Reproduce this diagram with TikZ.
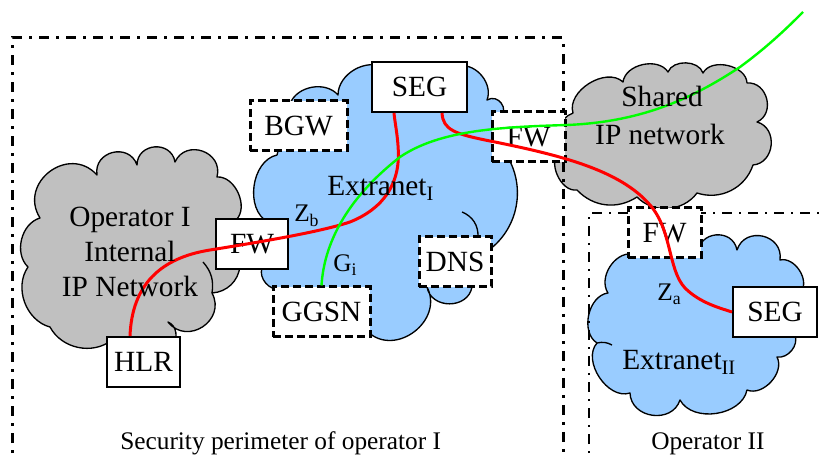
\documentclass[tikz,border=0pt]{standalone}
\usepackage{fontspec}
\setmainfont{Liberation Serif}
\usetikzlibrary{calc}
\definecolor{cloudgray}{HTML}{C0C0C0}
\definecolor{cloudblue}{HTML}{99CCFF}
\tikzset{
  pb/.style={bend left=85, looseness=1.5},
  pm/.style={bend left=80, looseness=1.3},
  pf/.style={bend left=#1, looseness=1},
  cloudline/.style={draw=black, line width=1pt, line join=round},
  tick/.style={draw=black, line width=1pt},
  frameI/.style={line width=2.25pt, dash pattern=on 7.5pt off 5.25pt on 2.25pt off 5.25pt},
  frameII/.style={line width=1.5pt, dash pattern=on 7.5pt off 5.25pt on 1.5pt off 5.25pt},
  sbox/.style={draw, fill=white, line width=1.5pt, inner sep=0pt, minimum height=37.5pt, font=\fontsize{22}{26}\selectfont},
  dbox/.style={sbox, line width=2.25pt, dash pattern=on 6pt off 3pt},
  maintext/.style={font=\fontsize{22}{26}\selectfont, inner sep=0pt},
  lbl/.style={font=\fontsize{19}{22}\selectfont, inner sep=0pt, anchor=base west},
  redl/.style={draw=red, line width=2.25pt},
  greenl/.style={draw=green, line width=1.8pt},
}
\begin{document}
\begin{tikzpicture}[x=0.75pt,y=-0.75pt]
\useasboundingbox (0,0) rectangle (821,459);
\clip (0,0) rectangle (821,459);
% clouds
\path[cloudline, fill=cloudgray] (40,218) to[pb] (97,175) to[pb] (137,165) to[pb] (175,162) to[pb] (217,177) to[pf=70] (236,220) -- (240,266) to[pf=40] (212,293) to[pb] (168,322) to[pf=60] (172,345) -- (118,345) -- (112,340) to[pf=50] (50,327) to[pf=55] (28,267) to[pf=60] (40,218) -- cycle;
\draw[tick] (203,262) to[bend left=25] (212,293);
\path[cloudline, fill=cloudblue] (268,222) to[pf=70] (277,155) -- (290,104) to[pf=60] (338,95) to[pf=60] (385,68) -- (460,66) to[pf=60] (487,100) to[pb] (500,118) -- (503,150) to[pf=45] (489,250) -- (472,287) to[pm] (427,287) to[pm] (368,332) -- (285,300) -- (280,289) to[pf=60] (262,268) -- cycle;
\draw[tick] (462,212) to[bend left=35] (478,237);
\path[cloudline, fill=cloudgray] (573,113) to[pf=75] (623,82) to[pf=70] (668,72) to[pf=70] (703,73) to[pf=75] (747,83) to[pm] (757,122) to[pm] (753,165) to[pf=45] (697,193) to[pf=50] (637,197) to[pf=40] (577,190) to[pf=75] (560,150) to[pf=50] (573,113) -- cycle;
\path[cloudline, fill=cloudblue] (632,254) -- (698,254) to[pb] (737,250) to[pb] (780,260) to[pf=70] (801,292) -- (795,335) to[pf=60] (777,357) to[pf=70] (747,390) to[pf=70] (680,400) to[pm] (630,393) to[pf=75] (597,343) to[pf=70] (608,293) to[pf=65] (632,254) -- cycle;
\draw[tick] (597,343) to[bend left=20] (612,345);
% frames
\draw[frameI] (12,470) -- (12,38) -- (563,38) -- (563,470);
\draw[frameII] (589,470) -- (589,213) -- (830,213);
% boxes
\node[sbox, minimum width=71.25pt] (SEGa) at (419.5,87) {SEG};
\node[sbox, minimum width=54pt] (FWa) at (252,244) {FW};
\node[sbox, minimum width=54.75pt] (HLR) at (143.5,362) {HLR};
\node[sbox, minimum width=63pt] (SEGb) at (775,312) {SEG};
\node[dbox, minimum width=72.75pt] (BGW) at (298.5,126) {BGW};
\node[dbox, minimum width=54.75pt] (FWb) at (528.5,137) {FW};
\node[dbox, minimum width=54pt] (DNS) at (455,262) {DNS};
\node[dbox, minimum width=72.75pt] (GGSN) at (321.5,312) {GGSN};
\node[dbox, minimum width=54.75pt] (FWc) at (664.5,233) {FW};
% connectors
\draw[redl] ($(HLR.north)+(-13.5,0)$) .. controls (132,285) and (160,258) .. (210,250) .. controls (260,242) and (320,232) .. (350,222) .. controls (375,212) and (392,195) .. (397,170) .. controls (401,150) and (395,125) .. ($(SEGa.south)+(-25.5,0)$);
\draw[redl] ($(SEGa.south)+(22.5,0)$) .. controls (443,130) and (455,134) .. (490,141) .. controls (560,155) and (620,170) .. (650,205) .. controls (672,230) and (668,270) .. (685,288) .. controls (700,303) and (720,308) .. (SEGb.west);
\coordinate (gend) at (803,12);
\draw[greenl] (GGSN.north) .. controls (324,245) and (345,200) .. (400,157) .. controls (440,130) and (500,127) .. (567,125) .. controls (640,122) and (690,100) .. (740,67) .. controls (770,45) and (790,25) .. (gend);
% labels
\node[maintext, anchor=base] (opI1) at (130,227) {Operator I};
\node[maintext, anchor=base] (opI2) at (130,262) {Internal};
\node[maintext, anchor=base] (opI3) at (130,297) {IP Network};
\node[maintext, anchor=base] (sh1) at (662,107) {Shared};
\node[maintext, anchor=base] (sh2) at (660,145) {IP network};
\node[maintext, anchor=base west] (extI) at (327,196) {Extranet\textsubscript{I}};
\node[maintext, anchor=base west] (extII) at (622,370) {Extranet\textsubscript{II}};
\node[lbl] (Zb) at (294,222) {Z\textsubscript{b}};
\node[lbl] (Gi) at (333,272) {G\textsubscript{i}};
\node[lbl] (Za) at (657,301) {Z\textsubscript{a}};
\node[lbl] (perI) at (120,450) {Security perimeter of operator I};
\node[lbl] (opII) at (651,450) {Operator II};
\end{tikzpicture}
\end{document}
